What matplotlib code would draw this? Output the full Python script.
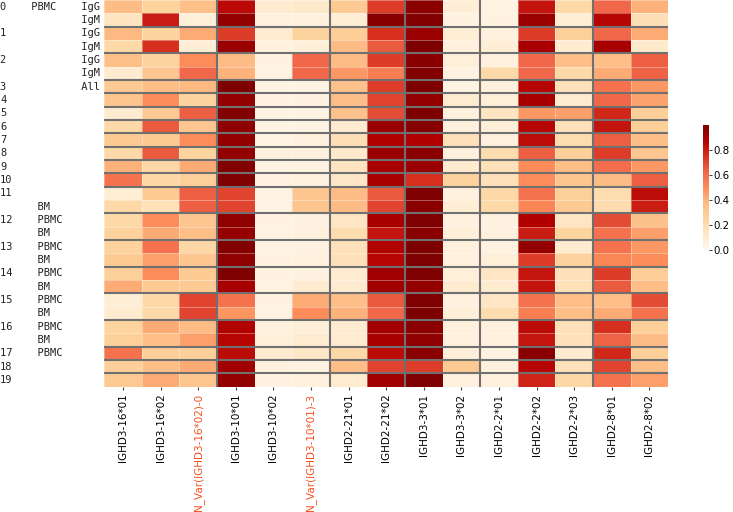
import numpy as np
import matplotlib
matplotlib.use("Agg")
import matplotlib.pyplot as plt
from matplotlib.colors import Normalize
from matplotlib.transforms import blended_transform_factory

# ---- column (gene) labels and groups ----
columns = ["IGHD3-16*01", "IGHD3-16*02", "N_Var(IGHD3-16*02)-0",
           "IGHD3-10*01", "IGHD3-10*02", "N_Var(IGHD3-10*01)-3",
           "IGHD2-21*01", "IGHD2-21*02",
           "IGHD3-3*01", "IGHD3-3*02",
           "IGHD2-2*01", "IGHD2-2*02", "IGHD2-2*03",
           "IGHD2-8*01", "IGHD2-8*02"]
column_groups = ["IGHD3-16"] * 3 + ["IGHD3-10"] * 3 + ["IGHD2-21"] * 2 + \
                ["IGHD3-3"] * 2 + ["IGHD2-2"] * 3 + ["IGHD2-8"] * 2

# ---- row labels ----
row_labels = ["0    PBMC    IgG", "             IgM",
              "1            IgG", "             IgM",
              "2            IgG", "             IgM",
              "3            All",
              "4", "5", "6", "7", "8", "9", "10",
              "11", "      BM",
              "12    PBMC", "      BM",
              "13    PBMC", "      BM",
              "14    PBMC", "      BM",
              "15    PBMC", "      BM",
              "16    PBMC", "      BM",
              "17    PBMC", "18", "19"]
row_groups = [0, 0, 1, 1, 2, 2, 3, 4, 5, 6, 7, 8, 9, 10, 11, 11,
              12, 12, 13, 13, 14, 14, 15, 15, 16, 16, 17, 18, 19]

# ---- values (one list per row) ----
r00 = [0.37, 0.25, 0.35, 0.85, 0.10, 0.12, 0.30, 0.72, 0.97, 0.08, 0.04, 0.82, 0.22, 0.62, 0.40]
r01 = [0.15, 0.80, 0.07, 0.95, 0.05, 0.05, 0.08, 0.97, 0.99, 0.04, 0.04, 0.93, 0.08, 0.86, 0.18]
r02 = [0.38, 0.25, 0.42, 0.72, 0.10, 0.25, 0.28, 0.75, 0.93, 0.08, 0.05, 0.72, 0.27, 0.62, 0.42]
r03 = [0.22, 0.75, 0.08, 0.93, 0.05, 0.07, 0.37, 0.65, 1.00, 0.05, 0.08, 0.90, 0.10, 0.90, 0.12]
r04 = [0.35, 0.25, 0.50, 0.37, 0.04, 0.62, 0.37, 0.72, 0.97, 0.07, 0.05, 0.62, 0.36, 0.36, 0.64]
r05 = [0.10, 0.32, 0.62, 0.40, 0.04, 0.62, 0.47, 0.55, 0.99, 0.04, 0.22, 0.62, 0.22, 0.42, 0.63]
r06 = [0.30, 0.36, 0.38, 1.00, 0.03, 0.03, 0.34, 0.72, 1.00, 0.03, 0.05, 0.86, 0.17, 0.58, 0.47]
r07 = [0.33, 0.50, 0.25, 0.95, 0.04, 0.04, 0.36, 0.70, 0.95, 0.10, 0.07, 0.90, 0.10, 0.62, 0.44]
r08 = [0.10, 0.30, 0.64, 0.99, 0.03, 0.03, 0.34, 0.68, 1.00, 0.05, 0.15, 0.47, 0.45, 0.77, 0.27]
r09 = [0.22, 0.65, 0.32, 0.96, 0.03, 0.03, 0.10, 0.93, 0.98, 0.05, 0.07, 0.86, 0.17, 0.82, 0.27]
r10 = [0.30, 0.30, 0.50, 0.95, 0.03, 0.05, 0.18, 0.88, 0.88, 0.17, 0.05, 0.84, 0.20, 0.64, 0.36]
r11 = [0.22, 0.65, 0.25, 0.95, 0.05, 0.05, 0.12, 0.93, 0.97, 0.05, 0.20, 0.64, 0.27, 0.72, 0.32]
r12 = [0.40, 0.23, 0.42, 0.99, 0.03, 0.04, 0.15, 0.90, 0.93, 0.10, 0.17, 0.50, 0.36, 0.60, 0.47]
r13 = [0.58, 0.23, 0.27, 1.00, 0.04, 0.05, 0.13, 0.90, 0.75, 0.26, 0.17, 0.50, 0.32, 0.37, 0.64]
r14 = [0.08, 0.30, 0.64, 0.70, 0.03, 0.32, 0.37, 0.65, 1.00, 0.05, 0.22, 0.58, 0.27, 0.20, 0.84]
r15 = [0.22, 0.17, 0.64, 0.70, 0.03, 0.32, 0.37, 0.70, 0.97, 0.08, 0.22, 0.52, 0.30, 0.20, 0.80]
r16 = [0.22, 0.50, 0.32, 0.96, 0.04, 0.04, 0.14, 0.90, 1.00, 0.05, 0.04, 0.88, 0.14, 0.68, 0.34]
r17 = [0.26, 0.42, 0.36, 0.94, 0.04, 0.05, 0.20, 0.82, 0.97, 0.07, 0.05, 0.80, 0.25, 0.58, 0.45]
r18 = [0.26, 0.58, 0.23, 0.99, 0.04, 0.04, 0.17, 0.88, 1.00, 0.05, 0.04, 0.95, 0.10, 0.58, 0.47]
r19 = [0.30, 0.45, 0.32, 0.96, 0.04, 0.05, 0.17, 0.86, 1.00, 0.05, 0.07, 0.72, 0.26, 0.52, 0.50]
r20 = [0.27, 0.50, 0.30, 1.00, 0.04, 0.04, 0.10, 0.92, 1.00, 0.07, 0.14, 0.82, 0.17, 0.72, 0.28]
r21 = [0.42, 0.30, 0.30, 0.90, 0.04, 0.10, 0.10, 0.92, 0.95, 0.10, 0.10, 0.82, 0.17, 0.65, 0.36]
r22 = [0.08, 0.22, 0.70, 0.58, 0.04, 0.42, 0.36, 0.65, 1.00, 0.05, 0.14, 0.58, 0.36, 0.36, 0.68]
r23 = [0.10, 0.22, 0.70, 0.48, 0.04, 0.50, 0.40, 0.62, 1.00, 0.07, 0.20, 0.55, 0.36, 0.42, 0.58]
r24 = [0.25, 0.42, 0.37, 0.88, 0.05, 0.07, 0.10, 0.92, 0.97, 0.05, 0.05, 0.84, 0.17, 0.75, 0.27]
r25 = [0.27, 0.36, 0.45, 0.86, 0.07, 0.10, 0.10, 0.90, 0.96, 0.05, 0.05, 0.82, 0.17, 0.63, 0.37]
r26 = [0.58, 0.27, 0.27, 0.84, 0.10, 0.13, 0.22, 0.84, 0.97, 0.07, 0.04, 0.97, 0.10, 0.77, 0.27]
r27 = [0.27, 0.36, 0.42, 0.92, 0.05, 0.04, 0.36, 0.70, 0.72, 0.30, 0.05, 0.86, 0.17, 0.70, 0.36]
r28 = [0.30, 0.42, 0.32, 0.95, 0.04, 0.05, 0.10, 0.92, 1.00, 0.05, 0.05, 0.78, 0.23, 0.58, 0.45]

data = np.array([r00, r01, r02, r03, r04, r05, r06, r07, r08, r09, r10, r11, r12, r13, r14,
                 r15, r16, r17, r18, r19, r20, r21, r22, r23, r24, r25, r26, r27, r28])

nrows, ncols = data.shape

fig = plt.figure(figsize=(7.33, 5.12), dpi=100)
ax = fig.add_axes([104.2 / 733, 1 - 386.7 / 512, 564 / 733, 386.7 / 512])
cax = fig.add_axes([703 / 733, 1 - 250 / 512, 6 / 733, 125 / 512])

norm = Normalize(vmin=0.0, vmax=1.0)
mesh = ax.pcolormesh(np.arange(ncols + 1), np.arange(nrows + 1), data,
                     cmap="OrRd", norm=norm,
                     edgecolors=(1, 1, 1, 0.35), linewidth=0.6)
ax.set_xlim(0, ncols)
ax.set_ylim(nrows, 0)
for s in ax.spines.values():
    s.set_visible(False)

# group separators
for i in range(1, nrows):
    if row_groups[i] != row_groups[i - 1]:
        ax.axhline(i, color="#707070", lw=1.5, zorder=3)
for j in range(1, ncols):
    if column_groups[j] != column_groups[j - 1]:
        ax.axvline(j, color="#707070", lw=1.5, zorder=3)

# x tick labels
ax.set_xticks(np.arange(ncols) + 0.5)
ax.set_xticklabels(columns, rotation=90, fontsize=7.5, family="DejaVu Sans")
for lbl in ax.get_xticklabels():
    if lbl.get_text().startswith("N_Var"):
        lbl.set_color("#f4511e")
ax.tick_params(axis="x", length=2.5, width=0.8, pad=2.5, color="#444444")

# y labels (left aligned monospace at figure left edge)
ax.set_yticks([])
trans = blended_transform_factory(fig.transFigure, ax.transData)
for i, lab in enumerate(row_labels):
    ax.text(0.0, i + 0.5, lab, transform=trans, ha="left", va="center",
            family="DejaVu Sans Mono", fontsize=7.5, color="#222222")

# colorbar
cb = fig.colorbar(mesh, cax=cax)
cb.outline.set_visible(False)
cb.set_ticks([0.0, 0.2, 0.4, 0.6, 0.8])
cb.ax.tick_params(labelsize=7.4, length=2, width=0.8, pad=1.5, color="#444444")

fig.savefig("out.png", dpi=100)
